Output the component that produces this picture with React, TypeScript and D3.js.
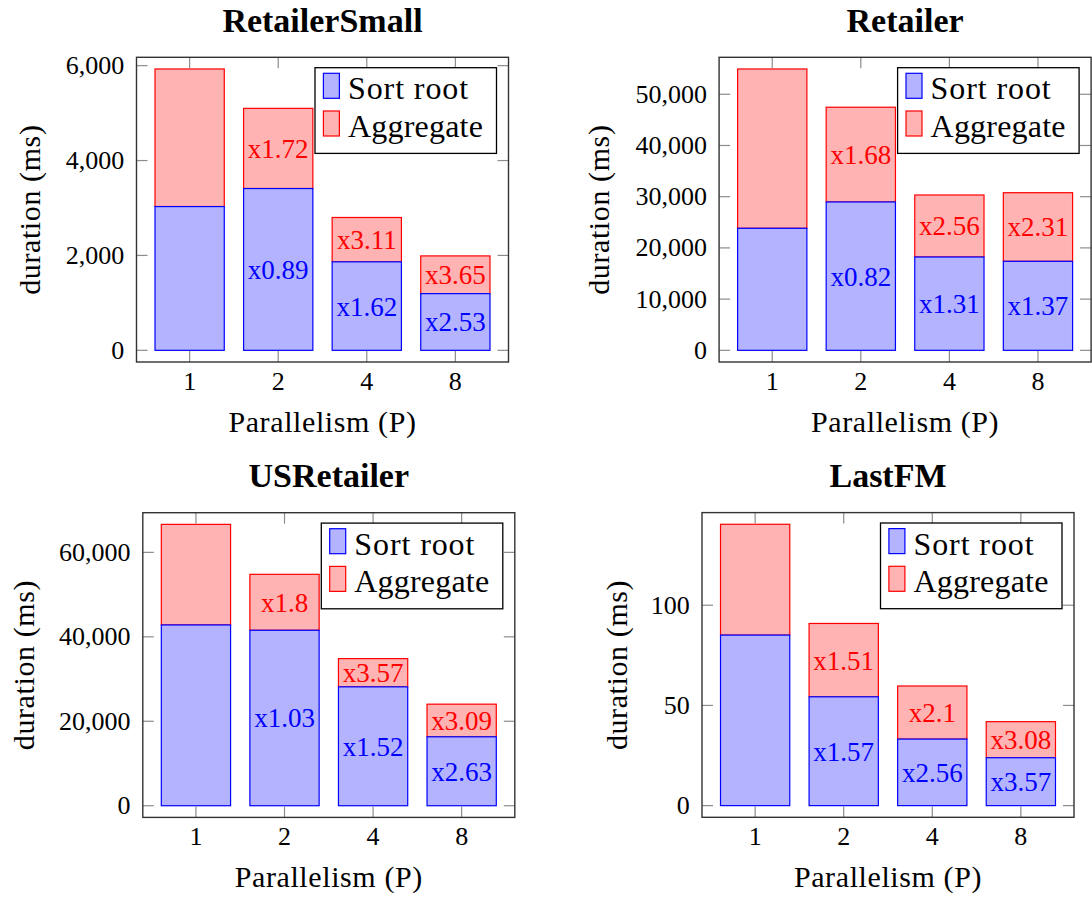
import * as d3 from 'd3';

const PARALLELISM = ['1', '2', '4', '8'];
const SERIES = ['Sort root', 'Aggregate'];

// RetailerSmall
const RS_SORT = [3030, 3410, 1865, 1195];
const RS_AGG = [2900, 1690, 935, 795];
const RS_SORT_LABELS = ['', 'x0.89', 'x1.62', 'x2.53'];
const RS_AGG_LABELS = ['', 'x1.72', 'x3.11', 'x3.65'];
const RS_TICKS = [0, 2000, 4000, 6000];

// Retailer
const R_SORT = [23830, 28970, 18220, 17380];
const R_AGG = [31110, 18500, 12110, 13400];
const R_SORT_LABELS = ['', 'x0.82', 'x1.31', 'x1.37'];
const R_AGG_LABELS = ['', 'x1.68', 'x2.56', 'x2.31'];
const R_TICKS = [0, 10000, 20000, 30000, 40000, 50000];

// USRetailer
const US_SORT = [42810, 41550, 28150, 16320];
const US_AGG = [23820, 13250, 6690, 7730];
const US_SORT_LABELS = ['', 'x1.03', 'x1.52', 'x2.63'];
const US_AGG_LABELS = ['', 'x1.8', 'x3.57', 'x3.09'];
const US_TICKS = [0, 20000, 40000, 60000];

// LastFM
const FM_SORT = [85.1, 54.3, 33.2, 23.9];
const FM_AGG = [55.3, 36.6, 26.5, 18.0];
const FM_SORT_LABELS = ['', 'x1.57', 'x2.56', 'x3.57'];
const FM_AGG_LABELS = ['', 'x1.51', 'x2.1', 'x3.08'];
const FM_TICKS = [0, 50, 100];

const FONT = "'Liberation Serif', 'Times New Roman', serif";
const W = 372;
const H = 304.7;
const TICK = 11;
const SORT_FILL = '#b3b3ff';
const AGG_FILL = '#ffb3b3';
const BLUE = '#0000ff';
const RED = '#ff0000';

interface PanelDef {
  title: string;
  sort: number[];
  agg: number[];
  sortLabels: string[];
  aggLabels: string[];
  ticks: number[];
  left: number;
  top: number;
  ylabelOffset: number;
}

const panels: PanelDef[] = [
  { title: 'RetailerSmall', sort: RS_SORT, agg: RS_AGG, sortLabels: RS_SORT_LABELS, aggLabels: RS_AGG_LABELS, ticks: RS_TICKS, left: 136.5, top: 57.3, ylabelOffset: 96.5 },
  { title: 'Retailer', sort: R_SORT, agg: R_AGG, sortLabels: R_SORT_LABELS, aggLabels: R_AGG_LABELS, ticks: R_TICKS, left: 719.1, top: 57.3, ylabelOffset: 110 },
  { title: 'USRetailer', sort: US_SORT, agg: US_AGG, sortLabels: US_SORT_LABELS, aggLabels: US_AGG_LABELS, ticks: US_TICKS, left: 142.8, top: 512.7, ylabelOffset: 109.3 },
  { title: 'LastFM', sort: FM_SORT, agg: FM_AGG, sortLabels: FM_SORT_LABELS, aggLabels: FM_AGG_LABELS, ticks: FM_TICKS, left: 702, top: 512.6, ylabelOffset: 75.5 },
];

const fmt = d3.format(',');

function Panel({ p }: { p: PanelDef }) {
  const x = d3.scalePoint<string>().domain(PARALLELISM).range([p.left, p.left + W]).padding(0.6);
  const totals = p.sort.map((s, i) => s + p.agg[i]);
  const max = d3.max(totals) ?? 1;
  const pad = max * 0.0415;
  const y = d3.scaleLinear().domain([-pad, max + pad]).range([p.top + H, p.top]);
  const bw = x.step() * 0.782;
  const bottom = p.top + H;
  const right = p.left + W;

  // legend box, top right inside the axis
  const lw = 181.5;
  const lh = 85.7;
  const lx = right - 12 - lw;
  const ly = p.top + 10.4;

  return (
    <g>
      <text x={p.left + W / 2} y={p.top - 25.7} textAnchor="middle" fontSize={34} fontWeight="bold" fontFamily={FONT} fill="#000">
        {p.title}
      </text>

      {/* bars: aggregate stacked on sort root */}
      {PARALLELISM.map((c, i) => {
        const cx = x(c)!;
        const s = p.sort[i];
        const a = p.agg[i];
        return (
          <g key={c}>
            <rect x={cx - bw / 2} y={y(s + a)} width={bw} height={y(s) - y(s + a)} fill={AGG_FILL} stroke={RED} strokeWidth={1.2} />
            <rect x={cx - bw / 2} y={y(s)} width={bw} height={y(0) - y(s)} fill={SORT_FILL} stroke={BLUE} strokeWidth={1.2} />
            {p.sortLabels[i] && (
              <text x={cx} y={(y(0) + y(s)) / 2} dy="0.35em" textAnchor="middle" fontSize={27} fontFamily={FONT} fill={BLUE}>
                {p.sortLabels[i]}
              </text>
            )}
            {p.aggLabels[i] && (
              <text x={cx} y={(y(s) + y(s + a)) / 2} dy="0.35em" textAnchor="middle" fontSize={27} fontFamily={FONT} fill={RED}>
                {p.aggLabels[i]}
              </text>
            )}
          </g>
        );
      })}

      {/* ticks, inward on all four sides */}
      <g stroke="#8c8c8c" strokeWidth={1.2}>
        {PARALLELISM.map((c) => (
          <g key={c}>
            <line x1={x(c)} x2={x(c)} y1={bottom} y2={bottom - TICK} />
            <line x1={x(c)} x2={x(c)} y1={p.top} y2={p.top + TICK} />
          </g>
        ))}
        {p.ticks.map((t) => (
          <g key={t}>
            <line x1={p.left} x2={p.left + TICK} y1={y(t)} y2={y(t)} />
            <line x1={right} x2={right - TICK} y1={y(t)} y2={y(t)} />
          </g>
        ))}
      </g>

      <rect x={p.left} y={p.top} width={W} height={H} fill="none" stroke="#333" strokeWidth={1.4} />

      {PARALLELISM.map((c) => (
        <text key={c} x={x(c)} y={bottom + 28} textAnchor="middle" fontSize={26} fontFamily={FONT} fill="#000">
          {c}
        </text>
      ))}
      {p.ticks.map((t) => (
        <text key={t} x={p.left - 12.2} y={y(t)} dy="0.33em" textAnchor="end" fontSize={26} fontFamily={FONT} fill="#000">
          {fmt(t)}
        </text>
      ))}

      <text x={p.left + W / 2} y={bottom + 70} textAnchor="middle" fontSize={30} letterSpacing={0.6} fontFamily={FONT} fill="#000">
        Parallelism (P)
      </text>
      <text
        transform={`translate(${p.left - p.ylabelOffset},${p.top + H / 2}) rotate(-90)`}
        textAnchor="middle"
        fontSize={30}
        letterSpacing={0.6}
        fontFamily={FONT}
        fill="#000"
      >
        duration (ms)
      </text>

      <rect x={lx} y={ly} width={lw} height={lh} fill="#fff" stroke="#000" strokeWidth={1.3} />
      {SERIES.map((name, i) => (
        <g key={name}>
          <rect
            x={lx + 8.4}
            y={ly + 5.6 + i * 37.7}
            width={16}
            height={25}
            fill={i === 0 ? SORT_FILL : AGG_FILL}
            stroke={i === 0 ? BLUE : RED}
            strokeWidth={1.2}
          />
          <text x={lx + 33} y={ly + 31.6 + i * 37.4} fontSize={32} letterSpacing={i === 0 ? 0.9 : 0.2} fontFamily={FONT} fill="#000">
            {name}
          </text>
        </g>
      ))}
    </g>
  );
}

export default function App() {
  return (
    <svg
      width={1092}
      height={901}
      viewBox="0 0 1092 901"
      style={{ position: 'absolute', left: 0, top: 0, background: '#fff' }}
    >
      <rect width={1092} height={901} fill="#fff" />
      {panels.map((p) => (
        <Panel key={p.title} p={p} />
      ))}
    </svg>
  );
}
